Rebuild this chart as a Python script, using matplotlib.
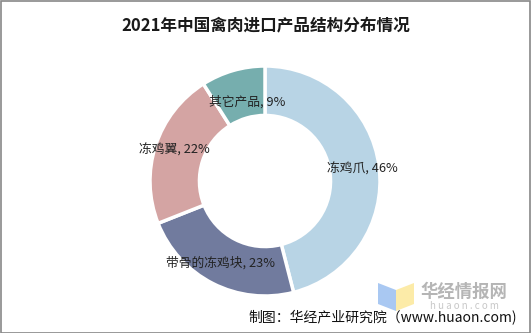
import matplotlib.pyplot as plt
from matplotlib.patches import Rectangle, Polygon

plt.rcParams['font.family'] = ['Noto Sans CJK SC', 'DejaVu Sans']

categories = ['冻鸡爪', '带骨的冻鸡块', '冻鸡翼', '其它产品']
shares = [46, 23, 22, 9]
colors = ['#B8D4E5', '#717B9E', '#D4A4A3', '#76AEAE']

W, H = 531, 333
fig = plt.figure(figsize=(W / 100, H / 100), dpi=100)

# pie axes: centre (265, 181) px, outer radius 115 px
cx, cy, size = 265, 181, 240
ax = fig.add_axes([(cx - size / 2) / W, (H - cy - size / 2) / H, size / W, size / H])
wedges, _ = ax.pie(shares, colors=colors, startangle=90, counterclock=False,
                   radius=1, wedgeprops=dict(width=0.43, edgecolor='white', linewidth=2.5))
lim = 1.0 * size / 2 / 115
ax.set_xlim(-lim, lim)
ax.set_ylim(-lim, lim)
ax.set_aspect('equal')
ax.axis('off')

import numpy as np
label_r = [0.83, 0.80, 0.88, 0.72]
label_dx = [0.02, -0.02, 0.05, 0.05]
start = 90
for i, (name, v) in enumerate(zip(categories, shares)):
    mid = np.deg2rad(start - v * 3.6 / 2)
    start -= v * 3.6
    x = label_r[i] * np.cos(mid) + label_dx[i]
    y = label_r[i] * np.sin(mid)
    ax.text(x, y, f'{name}, {v}%', ha='center', va='center', fontsize=9.2, color='#222222')

fig.text(0.5, 1 - 25 / H, '2021年中国禽肉进口产品结构分布情况', ha='center', va='center',
         fontsize=12, fontweight='bold', color='#1a1a1a')

# watermark
fig.patches.append(Polygon([[378 / W, 1 - 283 / H], [396 / W, 1 - 290 / H], [396 / W, 1 - 311 / H], [378 / W, 1 - 304 / H]],
                           closed=True, transform=fig.transFigure, facecolor='#A9C8F2', edgecolor='none'))
fig.patches.append(Polygon([[396 / W, 1 - 290 / H], [414 / W, 1 - 283 / H], [414 / W, 1 - 304 / H], [396 / W, 1 - 311 / H]],
                           closed=True, transform=fig.transFigure, facecolor='#FCEBA8', edgecolor='none'))
fig.text(464 / W, 1 - 292 / H, '华经情报网', ha='center', va='center', fontsize=12.5,
         fontweight='bold', color='#B5B5B5')
fig.text(464 / W, 1 - 306 / H, 'h u a o n . c o m', ha='center', va='center', fontsize=7, color='#C8C8C8')

fig.text(517 / W, 1 - 318 / H, '制图：华经产业研究院（www.huaon.com)', ha='right', va='center',
         fontsize=10, color='#111111')

fig.patches.append(Rectangle((0.5 / W, 0.5 / H), 1 - 1.5 / W, 1 - 1.5 / H, transform=fig.transFigure,
                             fill=False, edgecolor='#888888', linewidth=1.2))

fig.savefig('out.png', dpi=100, facecolor='white')
